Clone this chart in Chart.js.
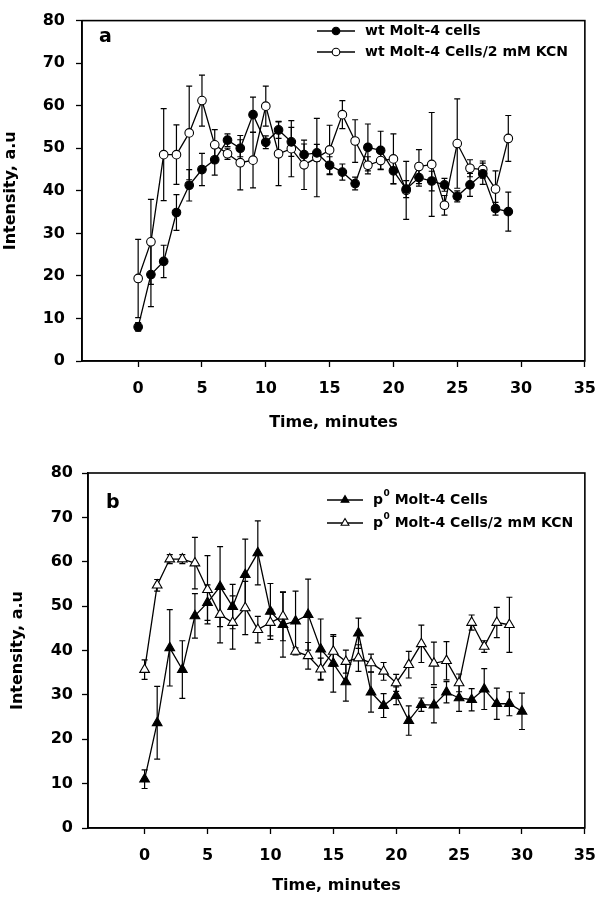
<!DOCTYPE html>
<html><head><meta charset="utf-8">
<script src="https://cdn.jsdelivr.net/npm/chart.js@4.4.0/dist/chart.umd.min.js"></script>
<style>
html,body{margin:0;padding:0;background:#fff;width:608px;height:899px;overflow:hidden}
canvas{position:absolute;left:0}
</style></head>
<body>
<canvas id="ca" width="608" height="440" style="top:0"></canvas>
<canvas id="cb" width="608" height="459" style="top:440px"></canvas>
<script>
// ---------- data ----------
const timesA = [0,1,2,3,4,5,6,7,8,9,10,11,12,13,14,15,16,17,18,19,20,21,22,23,24,25,26,27,28,29];
const wtCells = [8.0,20.3,23.4,34.9,41.3,45.0,47.3,51.9,50.0,57.9,51.4,54.3,51.5,48.5,48.9,46.0,44.4,41.7,50.2,49.5,44.7,40.4,43.1,42.3,41.4,38.7,41.4,44.0,35.8,35.1];
const wtCellsErr = [1.0,7.5,3.8,4.2,3.7,3.8,3.6,1.5,2.0,4.1,1.5,2.0,3.4,2.5,2.0,2.0,1.9,1.5,5.5,4.5,3.0,2.0,2.0,2.3,1.5,1.3,2.7,2.5,1.5,4.6];
const wtKCN = [19.4,28.0,48.5,48.5,53.6,61.2,50.8,48.7,46.6,47.2,59.9,48.7,49.9,46.1,47.8,49.6,57.9,51.7,46.0,47.1,47.5,40.1,45.7,46.2,36.6,51.1,45.3,45.0,40.4,52.3];
const wtKCNErr = [9.2,10.0,10.8,7.0,11.0,6.0,3.6,1.3,6.4,6.5,4.7,7.5,6.6,5.8,9.2,5.8,3.3,5.0,2.0,2.0,5.9,6.8,4.0,12.2,2.3,10.5,2.0,2.0,4.3,5.4];

const timesB = [0,1,2,3,4,5,6,7,8,9,10,11,12,13,14,15,16,17,18,19,20,21,22,23,24,25,26,27,28,29,30];
const p0Cells = [11.0,23.7,40.6,35.7,47.8,50.8,54.4,49.9,57.1,62.0,48.8,45.8,46.6,48.1,40.3,37.1,32.9,43.9,30.6,27.6,29.8,24.2,27.8,27.7,30.6,29.3,28.9,31.3,28.0,28.0,26.3];
const p0CellsErr = [2.1,8.2,8.6,6.5,5.0,4.0,9.0,5.0,8.0,7.2,6.3,7.3,6.8,8.0,6.8,6.5,4.3,3.4,4.5,2.7,2.0,3.3,1.5,4.0,2.4,3.0,2.5,4.6,3.5,2.7,4.1];
const timesBK = [0,1,2,3,4,5,6,7,8,9,10,11,12,13,14,15,16,17,18,19,20,21,22,23,24,25,26,27,28,29];
const p0KCN = [35.7,54.7,60.6,60.6,59.7,53.7,48.1,46.3,49.6,44.7,46.3,47.7,39.8,38.8,35.8,39.8,37.5,38.3,37.2,35.3,32.7,36.8,41.5,37.1,37.7,32.7,46.3,40.9,46.3,45.8];
const p0KCNErr = [2.2,1.3,1.0,1.0,5.8,7.7,6.4,6.0,6.0,3.0,3.0,5.5,0.8,3.0,2.5,3.4,2.6,3.0,2.0,2.0,1.9,3.0,4.2,4.8,4.3,2.0,1.7,1.3,3.4,6.2];

const xTickVals = [0,5,10,15,20,25,30,35];
const yTickVals = [0,10,20,30,40,50,60,70,80];
const labelsA = ['wt Molt-4 cells','wt Molt-4 Cells/2 mM KCN'];
const labelsB = ['p\u2070 Molt-4 Cells','p\u2070 Molt-4 Cells/2 mM KCN'];
const xTitle = 'Time, minutes';
const yTitle = 'Intensity, a.u';

// ---------- helpers ----------
const FONT = "'DejaVu Sans', sans-serif";
const pts = (xs, ys) => xs.map((x, i) => ({x: x, y: ys[i]}));

function drawMarker(ctx, style, x, y, r, fill) {
  ctx.beginPath();
  if (style === 'triangle') {
    ctx.moveTo(x, y - r);
    ctx.lineTo(x + r * 0.866, y + r * 0.5);
    ctx.lineTo(x - r * 0.866, y + r * 0.5);
    ctx.closePath();
  } else {
    ctx.arc(x, y, r, 0, Math.PI * 2);
  }
  ctx.fillStyle = fill; ctx.fill();
  ctx.lineWidth = 1.1; ctx.strokeStyle = '#000'; ctx.stroke();
}
function drawLabel(ctx, text, x, y) {
  ctx.fillStyle = '#000';
  ctx.textBaseline = 'middle';
  ctx.textAlign = 'left';
  ctx.font = 'bold 14px ' + FONT;
  const parts = text.split('\u2070');
  if (parts.length === 1) { ctx.fillText(text, x, y); return; }
  ctx.fillText(parts[0], x, y);
  x += ctx.measureText(parts[0]).width + 0.5;
  ctx.font = 'bold 9px ' + FONT;
  ctx.fillText('0', x, y - 6);
  x += ctx.measureText('0').width;
  ctx.font = 'bold 14px ' + FONT;
  ctx.fillText(parts[1], x, y);
}

const errorBars = {
  id: 'errorBars',
  beforeDatasetsDraw(chart) {
    const ctx = chart.ctx, xs = chart.scales.x, ys = chart.scales.y;
    ctx.save();
    ctx.strokeStyle = '#000'; ctx.lineWidth = 1.2;
    chart.data.datasets.forEach(ds => {
      if (!ds.errors) return;
      ds.data.forEach((p, i) => {
        const e = ds.errors[i];
        if (!e) return;
        const x = xs.getPixelForValue(p.x);
        const y1 = ys.getPixelForValue(p.y + e), y2 = ys.getPixelForValue(p.y - e);
        ctx.beginPath();
        ctx.moveTo(x, y1); ctx.lineTo(x, y2);
        ctx.moveTo(x - 3, y1); ctx.lineTo(x + 3, y1);
        ctx.moveTo(x - 3, y2); ctx.lineTo(x + 3, y2);
        ctx.stroke();
      });
    });
    ctx.restore();
  }
};

const decor = {
  id: 'decor',
  afterDraw(chart, args, o) {
    const ctx = chart.ctx, a = chart.chartArea;
    ctx.save();
    ctx.strokeStyle = '#000'; ctx.lineWidth = 1.6;
    ctx.strokeRect(a.left, a.top, a.right - a.left, a.bottom - a.top);
    ctx.fillStyle = '#000';
    ctx.font = 'bold 19px ' + FONT;
    ctx.textBaseline = 'alphabetic'; ctx.textAlign = 'left';
    ctx.fillText(o.letter, o.letterX, o.letterY);
    chart.data.datasets.forEach((ds, i) => {
      const y = o.legY[i];
      ctx.beginPath(); ctx.lineWidth = 1.3; ctx.strokeStyle = '#000';
      ctx.moveTo(o.legX0, y); ctx.lineTo(o.legX1, y); ctx.stroke();
      drawMarker(ctx, ds.pointStyle, (o.legX0 + o.legX1) / 2, y, ds.pointStyle === 'triangle' ? 4.5 : 3.8, ds.pointBackgroundColor);
      drawLabel(ctx, ds.label, o.textX, y);
    });
    ctx.restore();
  }
};

function ds(label, xs, ys, errs, style, fill, r) {
  return {
    label: label, data: pts(xs, ys), errors: errs,
    borderColor: '#000', borderWidth: 1.3, tension: 0, fill: false,
    pointStyle: style, pointRadius: r, pointHoverRadius: r,
    pointBackgroundColor: fill, pointBorderColor: '#000', pointBorderWidth: 1.1
  };
}

function makeChart(id, datasets, cfg) {
  const tickFont = {family: FONT, size: 16, weight: 'bold'};
  return new Chart(document.getElementById(id), {
    type: 'line',
    data: {datasets: datasets},
    options: {
      responsive: false, animation: false, devicePixelRatio: 1,
      layout: {padding: cfg.pad},
      plugins: {legend: {display: false}, tooltip: {enabled: false}, decor: cfg.decor},
      scales: {
        x: {
          type: 'linear', min: cfg.xmin, max: 35,
          afterBuildTicks: s => { s.ticks = xTickVals.map(v => ({value: v})); },
          afterFit: s => { s.height = cfg.xh; },
          ticks: {font: tickFont, color: '#000', padding: 12, maxRotation: 0, autoSkip: false},
          grid: {drawOnChartArea: false, drawTicks: true, tickLength: 6, tickColor: '#000', tickWidth: 1.3},
          border: {display: true, color: '#000', width: 1.6},
          title: {display: true, text: xTitle, font: tickFont, color: '#000', padding: {top: 0, bottom: cfg.xtp}}
        },
        y: {
          type: 'linear', min: 0, max: 80,
          afterBuildTicks: s => { s.ticks = yTickVals.map(v => ({value: v})); },
          afterFit: s => { s.width = cfg.yw; },
          ticks: {font: tickFont, color: '#000', padding: cfg.ytp},
          grid: {drawOnChartArea: false, drawTicks: true, tickLength: 6, tickColor: '#000', tickWidth: 1.3},
          border: {display: true, color: '#000', width: 1.6},
          title: {display: true, text: yTitle, font: tickFont, color: '#000', padding: {top: cfg.ytitle, bottom: 0}}
        }
      }
    },
    plugins: [errorBars, decor]
  });
}

makeChart('ca', [
  ds(labelsA[0], timesA, wtCells, wtCellsErr, 'circle', '#000', 4.3),
  ds(labelsA[1], timesA, wtKCN, wtKCNErr, 'circle', '#fff', 4.3)
], {
  pad: {left: 0, top: 7, right: 19, bottom: 0}, xmin: -4.4, xh: 79, yw: 82, ytp: 11, xtp: 7.4, ytitle: 1.5,
  decor: {letter: 'a', letterX: 99, letterY: 42, legX0: 317, legX1: 355, textX: 365, legY: [31, 52]}
});

makeChart('cb', [
  ds(labelsB[0], timesB, p0Cells, p0CellsErr, 'triangle', '#000', 5.6),
  ds(labelsB[1], timesBK, p0KCN, p0KCNErr, 'triangle', '#fff', 5.6)
], {
  pad: {left: 0, top: 33, right: 11, bottom: 0}, xmin: -4.5, xh: 71, yw: 88, ytp: 9, xtp: 3.4, ytitle: 8,
  decor: {letter: 'b', letterX: 106, letterY: 68, legX0: 327, legX1: 363, textX: 373, legY: [60, 83]}
});
</script>
</body></html>
